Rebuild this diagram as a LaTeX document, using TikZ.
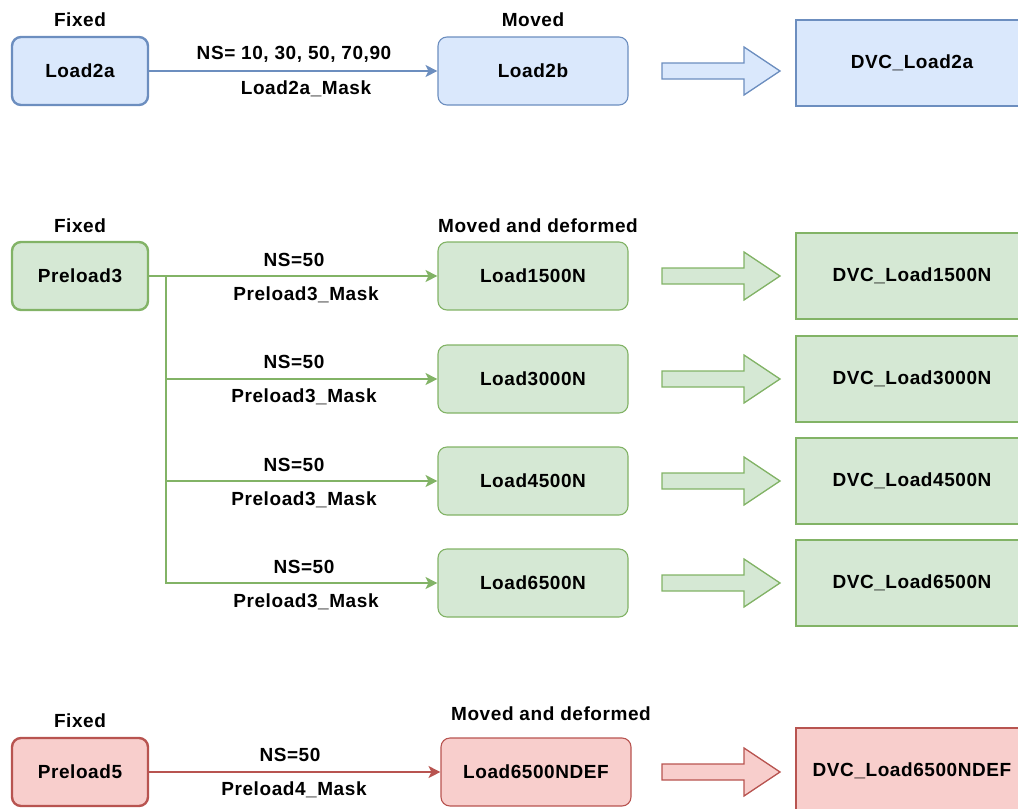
\documentclass[tikz,border=0pt]{standalone}
\usepackage{fontspec}
\setmainfont{Liberation Sans}
\newfontfamily\lblfont[LetterSpace=3]{Liberation Sans}
\usetikzlibrary{arrows.meta}
\definecolor{bF}{HTML}{DAE8FC}
\definecolor{bD}{HTML}{6C8EBF}
\definecolor{gF}{HTML}{D5E8D4}
\definecolor{gD}{HTML}{82B366}
\definecolor{rF}{HTML}{F8CECC}
\definecolor{rD}{HTML}{B85450}
\tikzset{
  lbl/.style={font=\lblfont\bfseries\fontsize{19}{22}\selectfont, inner sep=0pt, text=black},
  srcbox/.style={lbl, rounded corners=9pt, line width=2.4pt, minimum width=136pt, minimum height=68pt},
  dstbox/.style={lbl, rounded corners=9pt, line width=1.1pt, minimum width=190pt, minimum height=68pt},
  resbox/.style={lbl, line width=2.6pt, minimum width=232pt, minimum height=86pt},
  edge/.style={line width=1.5pt, -{Stealth[length=12pt,width=12pt,inset=3pt]}},
  barrow/.style={line width=1.3pt, line join=miter},
}
\newcommand\blockarr[3]{%
  \draw[barrow, draw=#2, fill=#3] (662,#1-8) -- (744,#1-8) -- (744,#1-24) -- (780,#1) -- (744,#1+24) -- (744,#1+8) -- (662,#1+8) -- cycle;}
\begin{document}
\begin{tikzpicture}[x=1pt,y=-1pt]
\useasboundingbox (0,0) rectangle (1018,809);
% ---------- blue row ----------
\node[lbl] (fx1) at (80,20) {Fixed};
\node[lbl] (mv1) at (533,20) {Moved};
\node[srcbox, draw=bD, fill=bF] (l2a) at (80,71) {Load2a};
\node[dstbox, draw=bD, fill=bF] (l2b) at (533,71) {Load2b};
\draw[edge, bD] (l2a) -- (l2b);
\node[lbl] (ns1) at (294,54) {NS= 10, 30, 50, 70,90};
\node[lbl] (mk1) at (306,89) {Load2a\_Mask};
\blockarr{71}{bD}{bF}
\node[resbox, draw=bD, fill=bF] (d2a) at (912,63) {DVC\_Load2a};
% ---------- green rows ----------
\node[lbl] (fx2) at (80,226) {Fixed};
\node[lbl] (mv2) at (538,226) {Moved and deformed};
\node[srcbox, draw=gD, fill=gF] (p3) at (80,276) {Preload3};
\node[dstbox, draw=gD, fill=gF] (l15) at (533,276) {Load1500N};
\node[dstbox, draw=gD, fill=gF] (l30) at (533,379) {Load3000N};
\node[dstbox, draw=gD, fill=gF] (l45) at (533,481) {Load4500N};
\node[dstbox, draw=gD, fill=gF] (l65) at (533,583) {Load6500N};
\coordinate (trunk) at (166,276);
\draw[edge, gD] (p3) -- (l15);
\draw[edge, gD] (p3.east) -- (trunk) |- (l30.west);
\draw[edge, gD] (p3.east) -- (trunk) |- (l45.west);
\draw[edge, gD] (p3.east) -- (trunk) |- (l65.west);
\node[lbl] (ns2) at (294,260) {NS=50};
\node[lbl] (mk2) at (306,295) {Preload3\_Mask};
\node[lbl] (ns3) at (294,362) {NS=50};
\node[lbl] (mk3) at (304,397) {Preload3\_Mask};
\node[lbl] (ns4) at (294,465) {NS=50};
\node[lbl] (mk4) at (304,500) {Preload3\_Mask};
\node[lbl] (ns5) at (304,567) {NS=50};
\node[lbl] (mk5) at (306,602) {Preload3\_Mask};
\blockarr{276}{gD}{gF}
\blockarr{379}{gD}{gF}
\blockarr{481}{gD}{gF}
\blockarr{583}{gD}{gF}
\node[resbox, draw=gD, fill=gF] (d15) at (912,276) {DVC\_Load1500N};
\node[resbox, draw=gD, fill=gF] (d30) at (912,379) {DVC\_Load3000N};
\node[resbox, draw=gD, fill=gF] (d45) at (912,481) {DVC\_Load4500N};
\node[resbox, draw=gD, fill=gF] (d65) at (912,583) {DVC\_Load6500N};
% ---------- red row ----------
\node[lbl] (fx3) at (80,721) {Fixed};
\node[lbl] (mv3) at (551,714) {Moved and deformed};
\node[srcbox, draw=rD, fill=rF] (p5) at (80,772) {Preload5};
\node[dstbox, draw=rD, fill=rF] (l65d) at (536,772) {Load6500NDEF};
\draw[edge, rD] (p5) -- (l65d);
\node[lbl] (ns6) at (290,755) {NS=50};
\node[lbl] (mk6) at (294,790) {Preload4\_Mask};
\blockarr{772}{rD}{rF}
\node[resbox, draw=rD, fill=rF] (d65d) at (912,771) {DVC\_Load6500NDEF};
\end{tikzpicture}
\end{document}
